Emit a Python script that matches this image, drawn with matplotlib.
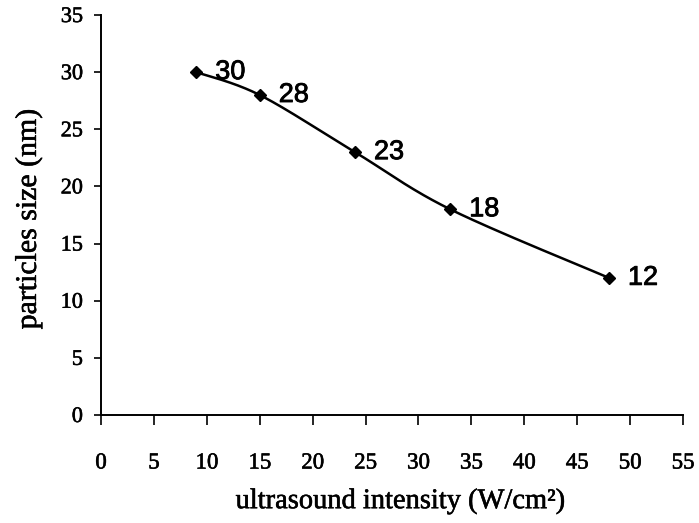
import matplotlib
matplotlib.use("Agg")
import matplotlib.pyplot as plt
import matplotlib.patheffects as pe
import numpy as np

# ultrasound intensity (W/cm2) vs. particle size (nm)
intensity = [9, 15, 24, 33, 48]
size_nm = [30, 28, 23, 18, 12]
xticks = list(range(0, 60, 5))
yticks = list(range(0, 40, 5))


def smooth_curve(xs, ys, n=40):
    # cubic Bezier through the points, control points from neighbours (spreadsheet style)
    xs = np.asarray(xs, float)
    ys = np.asarray(ys, float)
    px = np.concatenate([[xs[0]], xs, [xs[-1]]])
    py = np.concatenate([[ys[0]], ys, [ys[-1]]])
    out_x, out_y = [], []
    t = np.linspace(0, 1, n)
    for i in range(1, len(px) - 2):
        p0 = np.array([px[i], py[i]])
        p3 = np.array([px[i + 1], py[i + 1]])
        c1 = p0 + (np.array([px[i + 1], py[i + 1]]) - np.array([px[i - 1], py[i - 1]])) / 6.0
        c2 = p3 - (np.array([px[i + 2], py[i + 2]]) - np.array([px[i], py[i]])) / 6.0
        b = ((1 - t) ** 3)[:, None] * p0 + (3 * (1 - t) ** 2 * t)[:, None] * c1 \
            + (3 * (1 - t) * t ** 2)[:, None] * c2 + (t ** 3)[:, None] * p3
        out_x.extend(b[:, 0])
        out_y.extend(b[:, 1])
    return out_x, out_y


def main():
    fig = plt.figure(figsize=(6.99, 5.23), dpi=100)
    ax = fig.add_axes([0.1445, 0.2065, 0.8326, 0.7648])
    heavy = [pe.withStroke(linewidth=0.6, foreground="black")]
    medium = [pe.withStroke(linewidth=0.4, foreground="black")]

    sx, sy = smooth_curve(intensity, size_nm)
    ax.plot(sx, sy, color="black", linewidth=1.8, solid_capstyle="round")
    ax.plot(intensity, size_nm, linestyle="none", marker="D", markersize=6,
            color="black")

    for x, y in zip(intensity, size_nm):
        ax.annotate(str(y), (x, y), xytext=(19, 0), textcoords="offset pixels",
                    ha="left", va="center", fontsize=19.5,
                    family="Liberation Sans", color="black", path_effects=heavy)

    ax.set_xlim(0, 55)
    ax.set_ylim(0, 35)
    ax.set_xticks(xticks)
    ax.set_yticks(yticks)

    for s in ("top", "right"):
        ax.spines[s].set_visible(False)
    for s in ("left", "bottom"):
        ax.spines[s].set_linewidth(1.4)

    ax.tick_params(axis="x", direction="out", length=7, width=1.2, pad=20)
    ax.tick_params(axis="y", direction="out", length=5, width=1.2, pad=8)
    for lab in ax.get_xticklabels():
        lab.set_family("Liberation Serif")
        lab.set_fontsize(16.5)
        lab.set_path_effects(medium)
    for lab in ax.get_yticklabels():
        lab.set_family("Liberation Serif")
        lab.set_fontsize(16)
        lab.set_path_effects(medium)

    ax.set_xlabel("ultrasound intensity (W/cm²)", family="Liberation Serif",
                  fontsize=20.5, path_effects=medium)
    ax.set_ylabel("particles size (nm)", family="Liberation Serif", fontsize=21.5,
                  path_effects=medium)
    ax.xaxis.set_label_coords(0.514, -0.185)
    ax.yaxis.set_label_coords(-0.101, 0.49)

    fig.savefig("out.png", dpi=100)


if __name__ == "__main__":
    main()
